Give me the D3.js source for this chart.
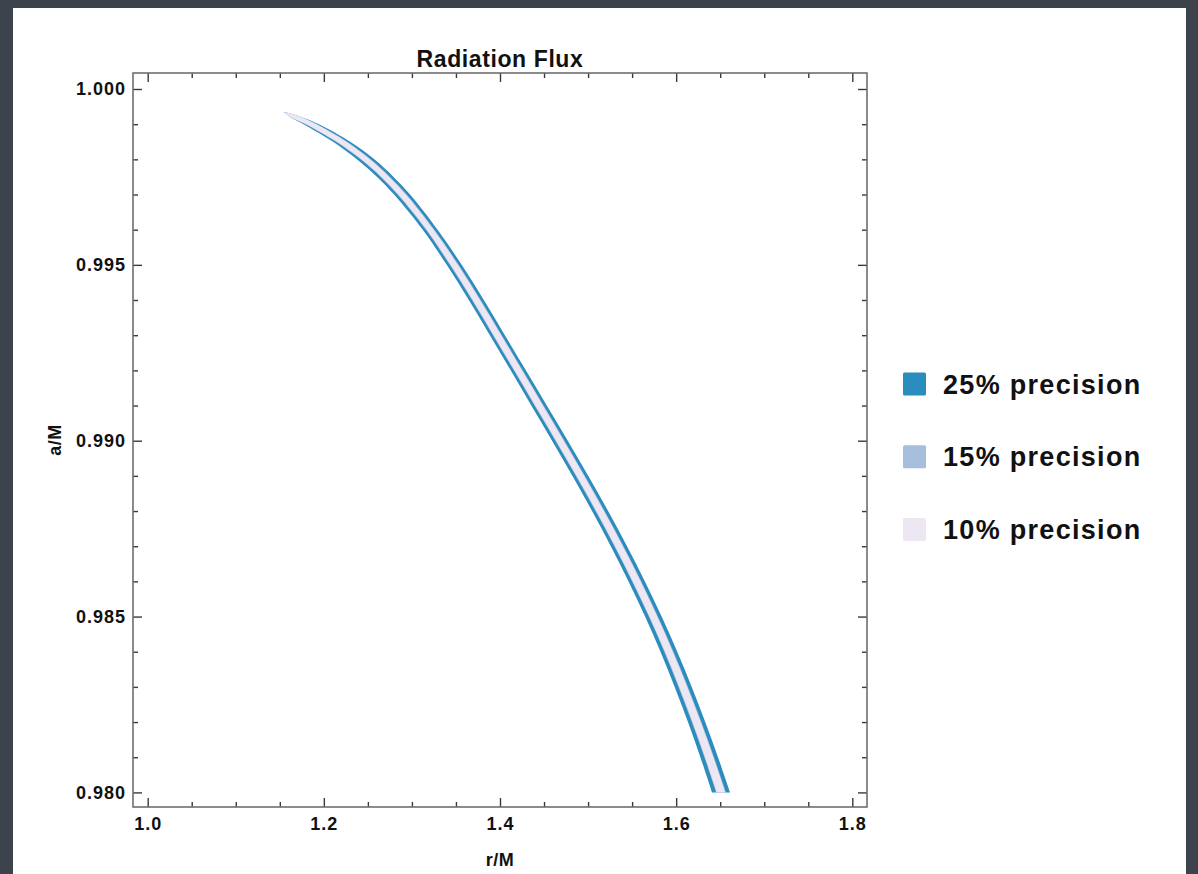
<!DOCTYPE html>
<html>
<head>
<meta charset="utf-8">
<script src="https://cdn.jsdelivr.net/npm/d3@7"></script>
<style>
  html, body { margin: 0; padding: 0; background: #3d434d; }
  svg { display: block; }
</style>
</head>
<body>
<div id="chart"></div>
<script>
// spin a/M rows of the band, top (tip) to bottom
const spinValues = [0.99935, 0.9992, 0.999, 0.9985, 0.998, 0.9975, 0.997, 0.996, 0.995, 0.994, 0.993, 0.992,
    0.991, 0.990, 0.989, 0.988, 0.987, 0.986, 0.985, 0.984, 0.983, 0.982, 0.981, 0.980];
// r/M at the middle of the band for each row
const radiusCenter = [1.1538, 1.1685, 1.1857, 1.2202, 1.2474, 1.2698, 1.2888, 1.3207, 1.3480, 1.3731, 1.3970, 1.4207,
    1.4443, 1.4680, 1.4911, 1.5136, 1.5350, 1.5552, 1.5741, 1.5917, 1.6080, 1.6232, 1.6375, 1.6510];
// half width of each region in r/M
const halfWidth25 = [0, 0.0062, 0.0087, 0.0097, 0.0099, 0.0093, 0.0091, 0.0084, 0.0085, 0.0085, 0.0085, 0.0086,
    0.0088, 0.0089, 0.0090, 0.0091, 0.0092, 0.0093, 0.0094, 0.0095, 0.0097, 0.0098, 0.0100, 0.0102];
const halfWidth15 = [0, 0.0060, 0.0066, 0.0065, 0.0059, 0.0054, 0.0053, 0.0049, 0.0051, 0.0050, 0.0051, 0.0051,
    0.0052, 0.0052, 0.0052, 0.0052, 0.0052, 0.0053, 0.0052, 0.0053, 0.0054, 0.0055, 0.0055, 0.0056];
const halfWidth10 = [0, 0.0058, 0.0058, 0.0053, 0.0047, 0.0043, 0.0042, 0.0039, 0.0041, 0.0041, 0.0042, 0.0042,
    0.0043, 0.0043, 0.0043, 0.0043, 0.0044, 0.0044, 0.0044, 0.0044, 0.0045, 0.0046, 0.0047, 0.0048];

const levelLabels = ['25% precision', '15% precision', '10% precision'];
const levelColors = ['#2b8cbe', '#a6bddb', '#ece7f2'];

const xTickValues = [1.0, 1.2, 1.4, 1.6, 1.8];
const yTickValues = [0.980, 0.985, 0.990, 0.995, 1.000];

const xDomain = [0.98333, 1.81667];
const yDomain = [0.979585, 1.000455];

function renderChart(targetId) {
    const width = 1198;
    const height = 874;
    const frame = { left: 133, top: 73, right: 867, bottom: 807 };
    const font = '"Liberation Sans", Arial, Helvetica, sans-serif';

    const svg = d3.select(`#${targetId}`).append('svg')
        .attr('width', width)
        .attr('height', height)
        .style('font-family', font)
        .style('font-weight', 'bold');

    svg.append('rect').attr('width', width).attr('height', height).attr('fill', '#3d434d');
    svg.append('rect')
        .attr('x', 13).attr('y', 8)
        .attr('width', width - 13 - 12).attr('height', height - 8)
        .attr('fill', '#ffffff');

    const x = d3.scaleLinear().domain(xDomain).range([frame.left, frame.right]);
    const y = d3.scaleLinear().domain(yDomain).range([frame.bottom, frame.top]);

    svg.append('defs').append('clipPath').attr('id', 'plot-clip')
        .append('rect')
        .attr('x', frame.left).attr('y', frame.top)
        .attr('width', frame.right - frame.left).attr('height', frame.bottom - frame.top);

    // bands, widest first
    const halves = [halfWidth25, halfWidth15, halfWidth10];
    const bands = svg.append('g').attr('clip-path', 'url(#plot-clip)');
    halves.forEach((half, k) => {
        const area = d3.area()
            .y((d, i) => y(spinValues[i]))
            .x0((d, i) => x(radiusCenter[i] - half[i]))
            .x1((d, i) => x(radiusCenter[i] + half[i]))
            .curve(d3.curveCatmullRom.alpha(0.5));
        bands.append('path')
            .datum(spinValues)
            .attr('d', area)
            .attr('fill', levelColors[k]);
    });

    // axes: ticks pointing inwards on all four sides
    const xMinor = x.ticks(16).filter(v => !xTickValues.some(t => Math.abs(t - v) < 1e-9));
    const yMinor = y.ticks(20).filter(v => !yTickValues.some(t => Math.abs(t - v) < 1e-9));
    const tickColor = '#3a3a3a';

    function styleAxis(g) {
        g.select('.domain').remove();
        g.selectAll('line').attr('stroke', tickColor).attr('stroke-width', 1.4);
        g.selectAll('text')
            .attr('fill', '#111')
            .style('font-size', '18px')
            .style('letter-spacing', '1px')
            .style('font-family', font)
            .style('font-weight', 'bold');
    }

    const addAxis = (axis, tx, ty) => svg.append('g')
        .attr('transform', `translate(${tx},${ty})`)
        .call(axis)
        .call(styleAxis);

    addAxis(d3.axisBottom(x).tickValues(xTickValues).tickFormat(d3.format('.1f')).tickSize(-9).tickPadding(10), 0, frame.bottom);
    addAxis(d3.axisBottom(x).tickValues(xMinor).tickFormat('').tickSize(-5), 0, frame.bottom);
    addAxis(d3.axisTop(x).tickValues(xTickValues).tickFormat('').tickSize(-9), 0, frame.top);
    addAxis(d3.axisTop(x).tickValues(xMinor).tickFormat('').tickSize(-5), 0, frame.top);

    addAxis(d3.axisLeft(y).tickValues(yTickValues).tickFormat(d3.format('.3f')).tickSize(-9).tickPadding(7), frame.left, 0);
    addAxis(d3.axisLeft(y).tickValues(yMinor).tickFormat('').tickSize(-5), frame.left, 0);
    addAxis(d3.axisRight(y).tickValues(yTickValues).tickFormat('').tickSize(-9), frame.right, 0);
    addAxis(d3.axisRight(y).tickValues(yMinor).tickFormat('').tickSize(-5), frame.right, 0);

    svg.append('rect')
        .attr('x', frame.left).attr('y', frame.top)
        .attr('width', frame.right - frame.left).attr('height', frame.bottom - frame.top)
        .attr('fill', 'none')
        .attr('stroke', '#6f6f6f')
        .attr('stroke-width', 1.6);

    // title and axis labels
    svg.append('text')
        .attr('x', (frame.left + frame.right) / 2).attr('y', 67)
        .attr('text-anchor', 'middle')
        .style('font-size', '23px').style('letter-spacing', '0.6px')
        .attr('fill', '#111')
        .text('Radiation Flux');

    svg.append('text')
        .attr('x', (frame.left + frame.right) / 2).attr('y', 866)
        .attr('text-anchor', 'middle')
        .style('font-size', '18px').style('letter-spacing', '0.5px')
        .attr('fill', '#111')
        .text('r/M');

    svg.append('text')
        .attr('transform', `translate(61, ${(frame.top + frame.bottom) / 2}) rotate(-90)`)
        .attr('text-anchor', 'middle')
        .style('font-size', '18px').style('letter-spacing', '0.5px')
        .attr('fill', '#111')
        .text('a/M');

    // legend
    const legend = svg.append('g').attr('transform', 'translate(903, 384)');
    levelLabels.forEach((label, i) => {
        const row = legend.append('g').attr('transform', `translate(0, ${i * 72.8})`);
        row.append('rect')
            .attr('x', 0).attr('y', -11.5)
            .attr('width', 23).attr('height', 23)
            .attr('rx', 1.5)
            .attr('fill', levelColors[i]);
        row.append('text')
            .attr('x', 40).attr('y', 9.5)
            .style('font-size', '27px').style('letter-spacing', '1.3px')
            .attr('fill', '#111')
            .text(label);
    });
}

renderChart('chart');
</script>
</body>
</html>
